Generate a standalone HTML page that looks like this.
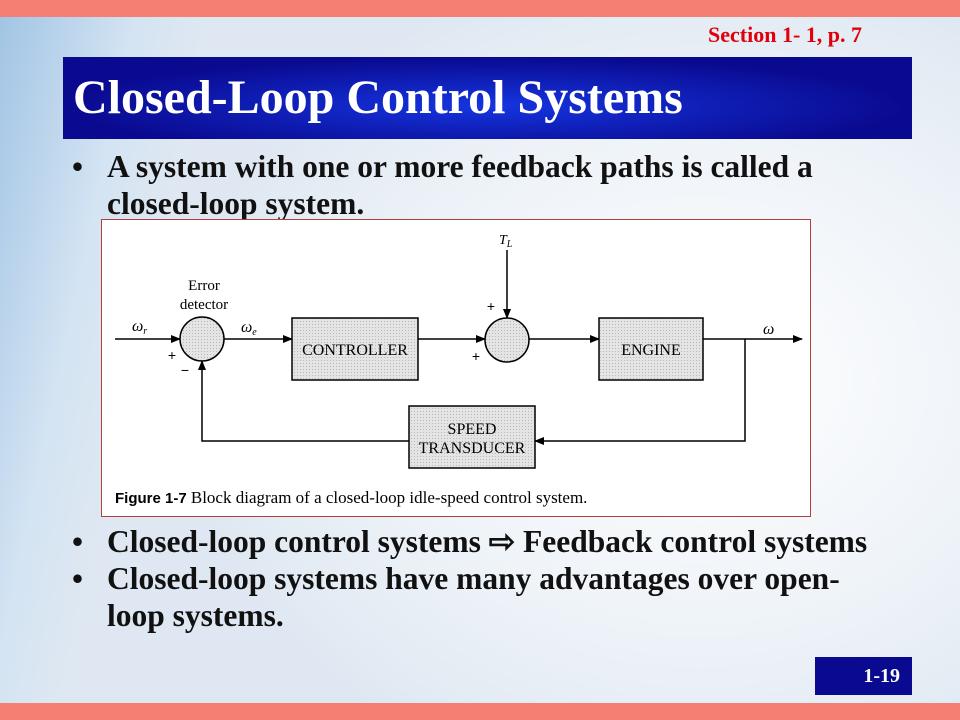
<!DOCTYPE html>
<html style="width:960px;height:720px;overflow:hidden"><head><meta charset="utf-8"><style>
body{margin:0;width:960px;height:720px;overflow:hidden;position:relative;background:#f4f7fb;font-family:"Liberation Serif",serif}
.bg{position:absolute;inset:0;background:radial-gradient(ellipse 520px 420px at 700px 380px,#ffffff 0%,#eef3f8 60%,#dfe8f2 100%)}
.sw{position:absolute;left:-120px;top:10px;width:260px;height:710px;background:linear-gradient(90deg,#6fa6d8,#cfe2f3 70%,rgba(255,255,255,0));transform:skewX(-12deg);opacity:.7}
.top{position:absolute;left:0;top:0;width:960px;height:17px;background:#f47f72}
.bot{position:absolute;left:0;top:703px;width:960px;height:17px;background:#f47f72}
.sec{position:absolute;left:708px;top:22px;color:#e0000c;font-weight:bold;font-size:22px;white-space:nowrap}
.title{position:absolute;left:63px;top:57px;width:849px;height:82px;background:radial-gradient(ellipse at 50% 60%,#1535e0,#0a0a90 70%);color:#fff;font-weight:bold;font-size:48px;line-height:82px;padding-left:10px;box-sizing:border-box;white-space:nowrap}
.b{position:absolute;left:72px;font-weight:bold;font-size:31.5px;line-height:37px;color:#111}
.b span{position:absolute;left:0}
.b div{margin-left:35px}
.fig{position:absolute;left:101px;top:219px;width:710px;height:298px;background:#fff;border:1px solid #b04040;box-sizing:border-box}
.pn{position:absolute;left:815px;top:657px;width:97px;height:38px;background:#0a0a90;color:#fff;font-weight:bold;font-size:20px;line-height:38px;text-align:right;padding-right:12px;box-sizing:border-box}
</style></head><body>
<div class="bg"></div><div class="sw"></div>
<div class="top"></div><div class="bot"></div>
<div class="sec">Section 1- 1, p. 7</div>
<div class="title">Closed-Loop Control Systems</div>
<div class="b" style="top:148px;width:800px"><span>•</span><div>A system with one or more feedback paths is called a<br>closed-loop system.</div></div>
<div class="fig"></div>
<svg style="position:absolute;left:0;top:0" width="960" height="720" font-family="Liberation Serif, serif">
<defs>
<pattern id="d" width="3" height="3" patternUnits="userSpaceOnUse"><rect width="3" height="3" fill="#e4e4e4"/><rect width="1" height="1" fill="#b8b8b8"/></pattern>
<marker id="a" markerWidth="10" markerHeight="8" refX="9" refY="4" orient="auto" markerUnits="userSpaceOnUse"><path d="M0,0L10,4L0,8z" fill="#000"/></marker>
</defs>
<g stroke="#000" stroke-width="1.5" fill="none">
<line x1="115" y1="339" x2="180" y2="339" marker-end="url(#a)"/>
<line x1="224" y1="339" x2="292" y2="339" marker-end="url(#a)"/>
<line x1="418" y1="339" x2="485" y2="339" marker-end="url(#a)"/>
<line x1="507" y1="250" x2="507" y2="318" marker-end="url(#a)"/>
<line x1="529" y1="339" x2="599" y2="339" marker-end="url(#a)"/>
<line x1="703" y1="339" x2="802" y2="339" marker-end="url(#a)"/>
<polyline points="745,339 745,441 535,441" marker-end="url(#a)"/>
<polyline points="409,441 202,441 202,361" marker-end="url(#a)"/>
</g>
<g stroke="#000" stroke-width="1.5" fill="url(#d)">
<circle cx="202" cy="339" r="22"/><circle cx="507" cy="340" r="22"/>
<rect x="292" y="318" width="126" height="62"/>
<rect x="599" y="318" width="104" height="62"/>
<rect x="409" y="406" width="126" height="62"/>
</g>
<g font-size="16" fill="#000" text-anchor="middle">
<text x="355" y="355">CONTROLLER</text><text x="651" y="355">ENGINE</text>
<text x="472" y="434">SPEED</text><text x="472" y="453">TRANSDUCER</text>
<text x="204" y="290" font-size="15">Error</text><text x="204" y="309" font-size="15">detector</text>
<text x="172" y="360" font-family="Liberation Sans, sans-serif" font-size="14">+</text><text x="185" y="375" font-family="Liberation Sans, sans-serif" font-size="14">−</text>
<text x="491" y="311" font-family="Liberation Sans, sans-serif" font-size="14">+</text><text x="476" y="361" font-family="Liberation Sans, sans-serif" font-size="14">+</text>
</g>
<g font-style="italic" font-size="16">
<text x="132" y="331">ω<tspan font-size="10" dy="3">r</tspan></text>
<text x="241" y="332">ω<tspan font-size="10" dy="3">e</tspan></text>
<text x="763" y="334">ω</text>
<text x="499" y="244" font-size="14">T<tspan font-size="10" dy="3">L</tspan></text>
</g>
<text x="115" y="503" font-size="15" font-family="Liberation Sans, sans-serif"><tspan font-weight="bold">Figure 1-7</tspan> <tspan font-family="Liberation Serif, serif" font-size="17">  Block diagram of a closed-loop idle-speed control system.</tspan></text>
</svg>
<div class="b" style="top:523px;width:840px;white-space:nowrap"><span>•</span><div>Closed-loop control systems ⇨ Feedback control systems</div></div>
<div class="b" style="top:560px;width:820px"><span>•</span><div>Closed-loop systems have many advantages over open-<br>loop systems.</div></div>
<div class="pn">1-19</div>
</body></html>
